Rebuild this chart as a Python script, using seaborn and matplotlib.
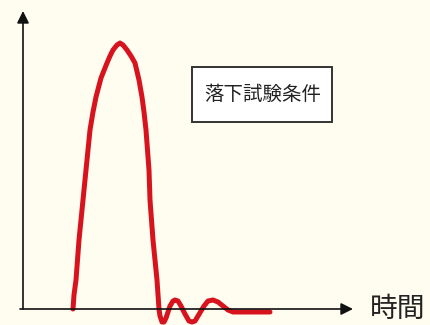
import numpy as np
import pandas as pd
import matplotlib
matplotlib.use('Agg')
import matplotlib.pyplot as plt
import seaborn as sns
from matplotlib.patches import Rectangle

# 落下試験の加速度波形 (図から読み取り、任意単位)
time = [50, 51, 53, 56, 60, 64, 67, 70, 73, 78,
        84, 87, 90, 94, 97, 100, 104, 108, 112, 116,
        119, 121, 123, 126, 127, 130, 134, 136, 137, 139,
        141, 143, 147, 150, 152, 155, 158, 162, 166, 169,
        172, 175, 181, 185, 190, 195, 200, 205, 210, 227,
        247]
accel = [0, 14, 29, 69, 109, 149, 179, 197, 212, 231,
         246, 253, 259, 264, 266, 264, 259, 253, 246, 229,
         212, 197, 179, 139, 109, 69, 29, 0, -7, -13,
         -13, -9, 3, 8, 9, 8, 3, -5, -12, -13,
         -12, -7, 3, 8, 9, 7, 3, -1, -3, -3,
         -3]

box_label = '落下試験条件'
x_label = '時間'

df = pd.DataFrame({'time': time, 'accel': accel})

sns.set_style('white')
plt.rcParams['font.family'] = ['Noto Sans CJK JP', 'DejaVu Sans']

fig = plt.figure(figsize=(4.3, 3.25), dpi=100)
fig.patch.set_facecolor('#fffdf0')
ax = fig.add_axes([0, 0, 1, 1])
ax.set_facecolor('#fffdf0')

sns.lineplot(data=df, x='time', y='accel', ax=ax, color='#d7141e',
             linewidth=3.6, sort=False)

# 軸 (矢印)
ax.annotate('', xy=(0, 298), xytext=(0, 0),
            arrowprops=dict(arrowstyle='-|>', color='#111111', lw=1.2,
                            mutation_scale=18, shrinkA=0, shrinkB=0))
ax.annotate('', xy=(330, 0), xytext=(-3, 0),
            arrowprops=dict(arrowstyle='-|>', color='#111111', lw=1.2,
                            mutation_scale=18, shrinkA=0, shrinkB=0))
ax.text(375, 0, x_label, fontsize=20, va='center', ha='center', color='#222222')

# 条件の枠
ax.add_patch(Rectangle((169, 187), 140, 55, facecolor='white',
                       edgecolor='#333333', linewidth=1.4))
ax.text(240, 215, box_label, fontsize=14, va='center', ha='center', color='#222222')

ax.set_xlim(-23, 407)
ax.set_ylim(-16, 309)
ax.axis('off')

plt.savefig('out.png', dpi=100, facecolor=fig.get_facecolor())
